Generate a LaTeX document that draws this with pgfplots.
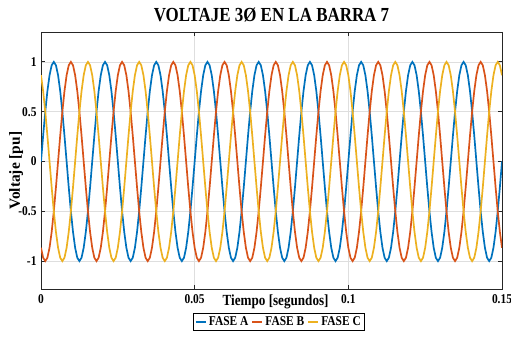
\documentclass[border=0pt]{standalone}
\usepackage{fontspec}
\setmainfont[FakeStretch=0.85]{Liberation Serif}
\newfontfamily\ylabfont{Liberation Serif}
\usepackage{pgfplots}
\pgfplotsset{compat=1.18}
\usepackage{pgfplotstable}
\definecolor{mA}{rgb}{0,0.447,0.741}
\definecolor{mB}{rgb}{0.850,0.325,0.098}
\definecolor{mC}{rgb}{0.929,0.694,0.125}

\pgfplotstableread{
t A B C
0.000000 0 -0.8660 0.8660
0.000694 0.2588 -0.9659 0.7071
0.001389 0.5 -1 0.5
0.002083 0.7071 -0.9659 0.2588
0.002778 0.8660 -0.8660 0
0.003472 0.9659 -0.7071 -0.2588
0.004167 1 -0.5 -0.5
0.004861 0.9659 -0.2588 -0.7071
0.005556 0.8660 0 -0.8660
0.006250 0.7071 0.2588 -0.9659
0.006944 0.5 0.5 -1
0.007639 0.2588 0.7071 -0.9659
0.008333 0 0.8660 -0.8660
0.009028 -0.2588 0.9659 -0.7071
0.009722 -0.5 1 -0.5
0.010417 -0.7071 0.9659 -0.2588
0.011111 -0.8660 0.8660 0
0.011806 -0.9659 0.7071 0.2588
0.012500 -1 0.5 0.5
0.013194 -0.9659 0.2588 0.7071
0.013889 -0.8660 0 0.8660
0.014583 -0.7071 -0.2588 0.9659
0.015278 -0.5 -0.5 1
0.015972 -0.2588 -0.7071 0.9659
0.016667 0 -0.8660 0.8660
0.017361 0.2588 -0.9659 0.7071
0.018056 0.5 -1 0.5
0.018750 0.7071 -0.9659 0.2588
0.019444 0.8660 -0.8660 0
0.020139 0.9659 -0.7071 -0.2588
0.020833 1 -0.5 -0.5
0.021528 0.9659 -0.2588 -0.7071
0.022222 0.8660 0 -0.8660
0.022917 0.7071 0.2588 -0.9659
0.023611 0.5 0.5 -1
0.024306 0.2588 0.7071 -0.9659
0.025000 0 0.8660 -0.8660
0.025694 -0.2588 0.9659 -0.7071
0.026389 -0.5 1 -0.5
0.027083 -0.7071 0.9659 -0.2588
0.027778 -0.8660 0.8660 0
0.028472 -0.9659 0.7071 0.2588
0.029167 -1 0.5 0.5
0.029861 -0.9659 0.2588 0.7071
0.030556 -0.8660 0 0.8660
0.031250 -0.7071 -0.2588 0.9659
0.031944 -0.5 -0.5 1
0.032639 -0.2588 -0.7071 0.9659
0.033333 0 -0.8660 0.8660
0.034028 0.2588 -0.9659 0.7071
0.034722 0.5 -1 0.5
0.035417 0.7071 -0.9659 0.2588
0.036111 0.8660 -0.8660 0
0.036806 0.9659 -0.7071 -0.2588
0.037500 1 -0.5 -0.5
0.038194 0.9659 -0.2588 -0.7071
0.038889 0.8660 0 -0.8660
0.039583 0.7071 0.2588 -0.9659
0.040278 0.5 0.5 -1
0.040972 0.2588 0.7071 -0.9659
0.041667 0 0.8660 -0.8660
0.042361 -0.2588 0.9659 -0.7071
0.043056 -0.5 1 -0.5
0.043750 -0.7071 0.9659 -0.2588
0.044444 -0.8660 0.8660 0
0.045139 -0.9659 0.7071 0.2588
0.045833 -1 0.5 0.5
0.046528 -0.9659 0.2588 0.7071
0.047222 -0.8660 0 0.8660
0.047917 -0.7071 -0.2588 0.9659
0.048611 -0.5 -0.5 1
0.049306 -0.2588 -0.7071 0.9659
0.050000 0 -0.8660 0.8660
0.050694 0.2588 -0.9659 0.7071
0.051389 0.5 -1 0.5
0.052083 0.7071 -0.9659 0.2588
0.052778 0.8660 -0.8660 0
0.053472 0.9659 -0.7071 -0.2588
0.054167 1 -0.5 -0.5
0.054861 0.9659 -0.2588 -0.7071
0.055556 0.8660 0 -0.8660
0.056250 0.7071 0.2588 -0.9659
0.056944 0.5 0.5 -1
0.057639 0.2588 0.7071 -0.9659
0.058333 0 0.8660 -0.8660
0.059028 -0.2588 0.9659 -0.7071
0.059722 -0.5 1 -0.5
0.060417 -0.7071 0.9659 -0.2588
0.061111 -0.8660 0.8660 0
0.061806 -0.9659 0.7071 0.2588
0.062500 -1 0.5 0.5
0.063194 -0.9659 0.2588 0.7071
0.063889 -0.8660 0 0.8660
0.064583 -0.7071 -0.2588 0.9659
0.065278 -0.5 -0.5 1
0.065972 -0.2588 -0.7071 0.9659
0.066667 0 -0.8660 0.8660
0.067361 0.2588 -0.9659 0.7071
0.068056 0.5 -1 0.5
0.068750 0.7071 -0.9659 0.2588
0.069444 0.8660 -0.8660 0
0.070139 0.9659 -0.7071 -0.2588
0.070833 1 -0.5 -0.5
0.071528 0.9659 -0.2588 -0.7071
0.072222 0.8660 0 -0.8660
0.072917 0.7071 0.2588 -0.9659
0.073611 0.5 0.5 -1
0.074306 0.2588 0.7071 -0.9659
0.075000 0 0.8660 -0.8660
0.075694 -0.2588 0.9659 -0.7071
0.076389 -0.5 1 -0.5
0.077083 -0.7071 0.9659 -0.2588
0.077778 -0.8660 0.8660 0
0.078472 -0.9659 0.7071 0.2588
0.079167 -1 0.5 0.5
0.079861 -0.9659 0.2588 0.7071
0.080556 -0.8660 0 0.8660
0.081250 -0.7071 -0.2588 0.9659
0.081944 -0.5 -0.5 1
0.082639 -0.2588 -0.7071 0.9659
0.083333 0 -0.8660 0.8660
0.084028 0.2588 -0.9659 0.7071
0.084722 0.5 -1 0.5
0.085417 0.7071 -0.9659 0.2588
0.086111 0.8660 -0.8660 0
0.086806 0.9659 -0.7071 -0.2588
0.087500 1 -0.5 -0.5
0.088194 0.9659 -0.2588 -0.7071
0.088889 0.8660 0 -0.8660
0.089583 0.7071 0.2588 -0.9659
0.090278 0.5 0.5 -1
0.090972 0.2588 0.7071 -0.9659
0.091667 0 0.8660 -0.8660
0.092361 -0.2588 0.9659 -0.7071
0.093056 -0.5 1 -0.5
0.093750 -0.7071 0.9659 -0.2588
0.094444 -0.8660 0.8660 0
0.095139 -0.9659 0.7071 0.2588
0.095833 -1 0.5 0.5
0.096528 -0.9659 0.2588 0.7071
0.097222 -0.8660 0 0.8660
0.097917 -0.7071 -0.2588 0.9659
0.098611 -0.5 -0.5 1
0.099306 -0.2588 -0.7071 0.9659
0.100000 0 -0.8660 0.8660
0.100694 0.2588 -0.9659 0.7071
0.101389 0.5 -1 0.5
0.102083 0.7071 -0.9659 0.2588
0.102778 0.8660 -0.8660 0
0.103472 0.9659 -0.7071 -0.2588
0.104167 1 -0.5 -0.5
0.104861 0.9659 -0.2588 -0.7071
0.105556 0.8660 0 -0.8660
0.106250 0.7071 0.2588 -0.9659
0.106944 0.5 0.5 -1
0.107639 0.2588 0.7071 -0.9659
0.108333 0 0.8660 -0.8660
0.109028 -0.2588 0.9659 -0.7071
0.109722 -0.5 1 -0.5
0.110417 -0.7071 0.9659 -0.2588
0.111111 -0.8660 0.8660 0
0.111806 -0.9659 0.7071 0.2588
0.112500 -1 0.5 0.5
0.113194 -0.9659 0.2588 0.7071
0.113889 -0.8660 0 0.8660
0.114583 -0.7071 -0.2588 0.9659
0.115278 -0.5 -0.5 1
0.115972 -0.2588 -0.7071 0.9659
0.116667 0 -0.8660 0.8660
0.117361 0.2588 -0.9659 0.7071
0.118056 0.5 -1 0.5
0.118750 0.7071 -0.9659 0.2588
0.119444 0.8660 -0.8660 0
0.120139 0.9659 -0.7071 -0.2588
0.120833 1 -0.5 -0.5
0.121528 0.9659 -0.2588 -0.7071
0.122222 0.8660 0 -0.8660
0.122917 0.7071 0.2588 -0.9659
0.123611 0.5 0.5 -1
0.124306 0.2588 0.7071 -0.9659
0.125000 0 0.8660 -0.8660
0.125694 -0.2588 0.9659 -0.7071
0.126389 -0.5 1 -0.5
0.127083 -0.7071 0.9659 -0.2588
0.127778 -0.8660 0.8660 0
0.128472 -0.9659 0.7071 0.2588
0.129167 -1 0.5 0.5
0.129861 -0.9659 0.2588 0.7071
0.130556 -0.8660 0 0.8660
0.131250 -0.7071 -0.2588 0.9659
0.131944 -0.5 -0.5 1
0.132639 -0.2588 -0.7071 0.9659
0.133333 0 -0.8660 0.8660
0.134028 0.2588 -0.9659 0.7071
0.134722 0.5 -1 0.5
0.135417 0.7071 -0.9659 0.2588
0.136111 0.8660 -0.8660 0
0.136806 0.9659 -0.7071 -0.2588
0.137500 1 -0.5 -0.5
0.138194 0.9659 -0.2588 -0.7071
0.138889 0.8660 0 -0.8660
0.139583 0.7071 0.2588 -0.9659
0.140278 0.5 0.5 -1
0.140972 0.2588 0.7071 -0.9659
0.141667 0 0.8660 -0.8660
0.142361 -0.2588 0.9659 -0.7071
0.143056 -0.5 1 -0.5
0.143750 -0.7071 0.9659 -0.2588
0.144444 -0.8660 0.8660 0
0.145139 -0.9659 0.7071 0.2588
0.145833 -1 0.5 0.5
0.146528 -0.9659 0.2588 0.7071
0.147222 -0.8660 0 0.8660
0.147917 -0.7071 -0.2588 0.9659
0.148611 -0.5 -0.5 1
0.149306 -0.2588 -0.7071 0.9659
0.150000 0 -0.8660 0.8660
}\datatable

\begin{document}
\begin{tikzpicture}
\useasboundingbox (-41bp,-51bp) rectangle (470bp,289bp);
\begin{axis}[
  at={(0,0)}, anchor=south west,
  scale only axis, width=461bp, height=257bp,
  xmin=0, xmax=0.15, ymin=-1.28, ymax=1.3,
  xtick={0,0.05,0.1,0.15}, xticklabels={0,0.05,0.1,0.15},
  ytick={-1,-0.5,0,0.5,1}, yticklabels={-1,-0.5,0,0.5,1},
  tick align=inside, major tick length=4bp,
  grid=major, major grid style={black!13, line width=0.6bp},
  axis line style={black!85, line width=0.9bp},
  tick style={black!85, line width=0.8bp},
  x tick label style={font=\fontsize{13.5}{13.5}\selectfont\bfseries, yshift=-2bp},
  y tick label style={font=\fontsize{13.5}{13.5}\selectfont\bfseries, xshift=-1bp},
  title={VOLTAJE 3Ø EN LA BARRA 7},
  title style={font=\fontsize{20}{20}\selectfont\bfseries, at={(axis description cs:0.5,1)}, anchor=south, yshift=0bp},
  xlabel={Tiempo [segundos]},
  xlabel style={font=\fontsize{15.5}{15.5}\selectfont\bfseries, at={(axis description cs:0.509,-0.05)}, anchor=center},
  ylabel={Voltaje [pu]},
  ylabel style={font=\ylabfont\fontsize{15.5}{15.5}\selectfont\bfseries, at={(axis description cs:-0.054,0.46)}, anchor=center},
  legend columns=3,
  legend style={at={(axis description cs:0.516,-0.093)}, anchor=north, draw=black, line width=0.9bp,
    inner sep=1.2bp, font=\fontsize{13.5}{14}\selectfont\bfseries,
    /tikz/every even column/.append style={column sep=1bp}},
  legend image code/.code={\draw[#1, line width=2bp] (0bp,0bp) -- (10bp,0bp);},
]
\addplot[draw=mA, line width=1.7bp] table[x=t, y=A] {\datatable};
\addlegendentry{FASE A}
\addplot[draw=mB, line width=1.7bp] table[x=t, y=B] {\datatable};
\addlegendentry{FASE B}
\addplot[draw=mC, line width=1.7bp] table[x=t, y=C] {\datatable};
\addlegendentry{FASE C}
\end{axis}
\end{tikzpicture}
\end{document}
